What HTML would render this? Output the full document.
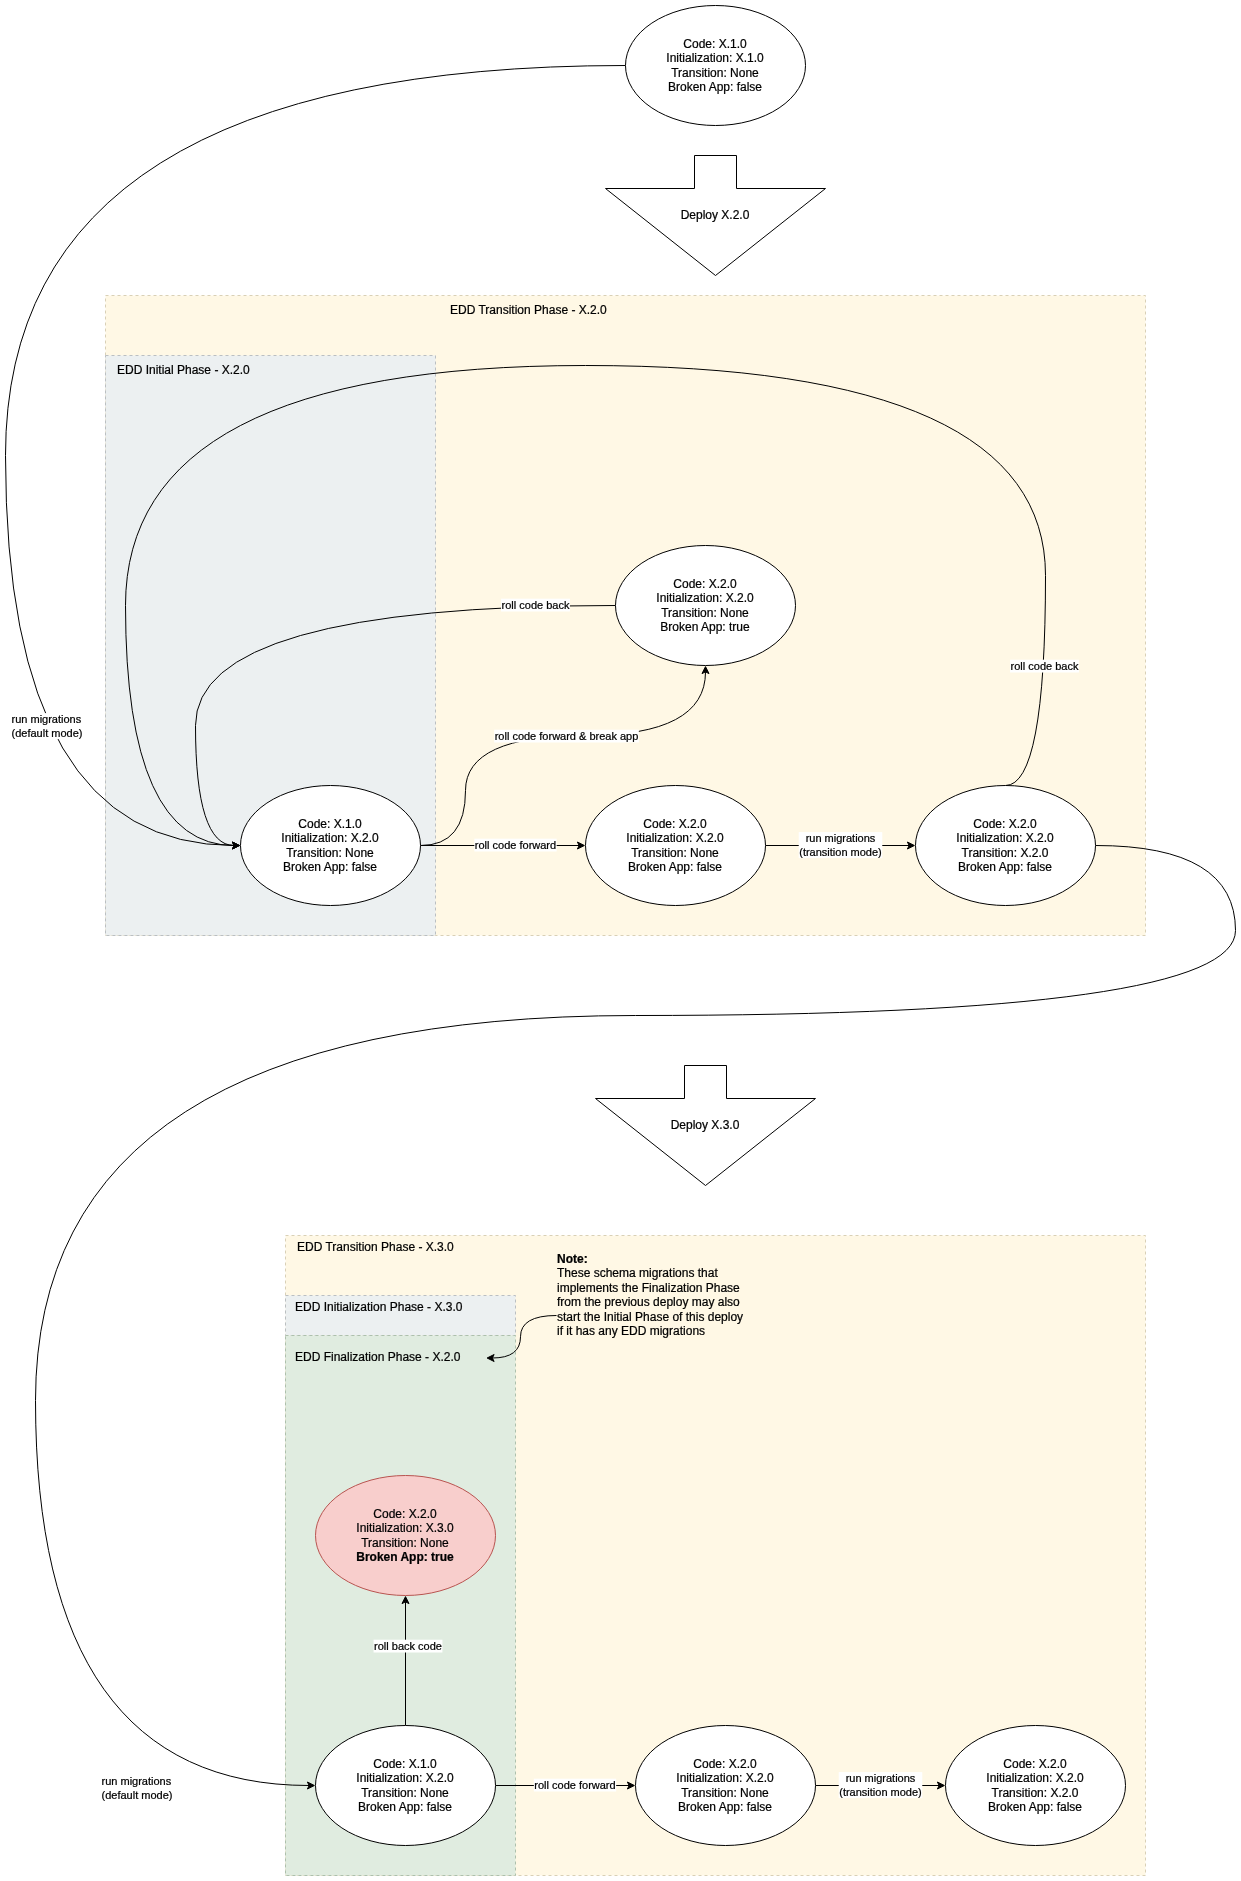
<!DOCTYPE html>
<html><head><meta charset="utf-8"><title>EDD state diagram</title>
<style>
html,body{margin:0;padding:0;background:#fff;}
svg{display:block;will-change:transform;font-family:"Liberation Sans",sans-serif;fill:#000;}
text{stroke:#000;stroke-width:0.22px;}
</style></head><body>
<svg width="1241" height="1881" viewBox="0 0 1241 1881">
<rect width="1241" height="1881" fill="#fff"/>
<rect x="105.5" y="295.5" width="1040" height="640" fill="#fff8e5" stroke="#d9d0b6" stroke-dasharray="3 3"/>
<rect x="105.5" y="355.5" width="330" height="580" fill="#ecf0f1" stroke="#babfc2" stroke-dasharray="3 3"/>
<rect x="285.5" y="1235.5" width="860" height="640" fill="#fff8e5" stroke="#d9d0b6" stroke-dasharray="3 3"/>
<rect x="285.5" y="1295.5" width="230" height="40" fill="#ecf0f1" stroke="#babfc2" stroke-dasharray="3 3"/>
<rect x="285.5" y="1335.5" width="230" height="540" fill="#e0ece0" stroke="#adc0ac" stroke-dasharray="3 3"/>
<text x="450" y="314" font-size="12" text-anchor="start">EDD Transition Phase - X.2.0</text>
<text x="117" y="374" font-size="12" text-anchor="start">EDD Initial Phase - X.2.0</text>
<text x="297" y="1251" font-size="12" text-anchor="start">EDD Transition Phase - X.3.0</text>
<text x="295" y="1311" font-size="12" text-anchor="start">EDD Initialization Phase - X.3.0</text>
<text x="295" y="1361" font-size="12" text-anchor="start">EDD Finalization Phase - X.2.0</text>
<text x="557" y="1263" font-size="12" text-anchor="start" font-weight="bold">Note:</text>
<text x="557" y="1277.4" font-size="12" text-anchor="start">These schema migrations that</text>
<text x="557" y="1291.8000000000002" font-size="12" text-anchor="start">implements the Finalization Phase</text>
<text x="557" y="1306.2" font-size="12" text-anchor="start">from the previous deploy may also</text>
<text x="557" y="1320.6000000000001" font-size="12" text-anchor="start">start the Initial Phase of this deploy</text>
<text x="557" y="1335.0" font-size="12" text-anchor="start">if it has any EDD migrations</text>
<path d="M 625.5 65.5 Q 5.5 65.5 5.5 455.5 Q 5.5 845.5 234.13 845.50" fill="none" stroke="#000" stroke-miterlimit="10"/>
<path d="M 239.38 845.50 L 232.38 849.00 L 234.13 845.50 L 232.38 842.00 Z" fill="#000" stroke="#000" stroke-miterlimit="10"/>
<path d="M 1005.5 785.5 Q 1045.5 785.5 1045.5 575.5 Q 1045.5 365.5 585.5 365.5 Q 125.5 365.5 125.5 605.5 Q 125.5 845.5 234.13 845.50" fill="none" stroke="#000" stroke-miterlimit="10"/>
<path d="M 239.38 845.50 L 232.38 849.00 L 234.13 845.50 L 232.38 842.00 Z" fill="#000" stroke="#000" stroke-miterlimit="10"/>
<path d="M 615.5 605.5 Q 195.5 605.5 195.5 725.5 Q 195.5 845.5 234.13 845.50" fill="none" stroke="#000" stroke-miterlimit="10"/>
<path d="M 239.38 845.50 L 232.38 849.00 L 234.13 845.50 L 232.38 842.00 Z" fill="#000" stroke="#000" stroke-miterlimit="10"/>
<path d="M 420.5 845.5 Q 465.5 845.5 465.5 790.5 Q 465.5 735.5 585.5 735.5 Q 705.5 735.5 705.50 671.87" fill="none" stroke="#000" stroke-miterlimit="10"/>
<path d="M 705.50 666.62 L 709.00 673.62 L 705.50 671.87 L 702.00 673.62 Z" fill="#000" stroke="#000" stroke-miterlimit="10"/>
<path d="M 420.5 845.5 L 579.13 845.50" fill="none" stroke="#000" stroke-miterlimit="10"/>
<path d="M 584.38 845.50 L 577.38 849.00 L 579.13 845.50 L 577.38 842.00 Z" fill="#000" stroke="#000" stroke-miterlimit="10"/>
<path d="M 765.5 845.5 L 909.13 845.50" fill="none" stroke="#000" stroke-miterlimit="10"/>
<path d="M 914.38 845.50 L 907.38 849.00 L 909.13 845.50 L 907.38 842.00 Z" fill="#000" stroke="#000" stroke-miterlimit="10"/>
<path d="M 1095.5 845.5 Q 1235.5 845.5 1235.5 930.5 Q 1235.5 1015.5 635.5 1015.5 Q 35.5 1015.5 35.5 1400.5 Q 35.5 1785.5 309.13 1785.50" fill="none" stroke="#000" stroke-miterlimit="10"/>
<path d="M 314.38 1785.50 L 307.38 1789.00 L 309.13 1785.50 L 307.38 1782.00 Z" fill="#000" stroke="#000" stroke-miterlimit="10"/>
<path d="M 405.5 1725.5 L 405.50 1601.87" fill="none" stroke="#000" stroke-miterlimit="10"/>
<path d="M 405.50 1596.62 L 409.00 1603.62 L 405.50 1601.87 L 402.00 1603.62 Z" fill="#000" stroke="#000" stroke-miterlimit="10"/>
<path d="M 495.5 1785.5 L 629.13 1785.50" fill="none" stroke="#000" stroke-miterlimit="10"/>
<path d="M 634.38 1785.50 L 627.38 1789.00 L 629.13 1785.50 L 627.38 1782.00 Z" fill="#000" stroke="#000" stroke-miterlimit="10"/>
<path d="M 815.5 1785.5 L 939.13 1785.50" fill="none" stroke="#000" stroke-miterlimit="10"/>
<path d="M 944.38 1785.50 L 937.38 1789.00 L 939.13 1785.50 L 937.38 1782.00 Z" fill="#000" stroke="#000" stroke-miterlimit="10"/>
<path d="M 556.5 1315.5 Q 520.5 1315.5 520.5 1336.75 Q 520.5 1358 492.37 1358.00" fill="none" stroke="#000" stroke-miterlimit="10"/>
<path d="M 487.12 1358.00 L 494.12 1354.50 L 492.37 1358.00 L 494.12 1361.50 Z" fill="#000" stroke="#000" stroke-miterlimit="10"/>
<rect x="501.06" y="598.70" width="68.87" height="12.80" fill="#ffffff"/>
<text x="535.5" y="609.1" text-anchor="middle" font-size="11">roll code back</text>
<rect x="1010.06" y="659.70" width="68.87" height="12.80" fill="#ffffff"/>
<text x="1044.5" y="670.1" text-anchor="middle" font-size="11">roll code back</text>
<rect x="494.15" y="729.70" width="144.69" height="12.80" fill="#ffffff"/>
<text x="566.5" y="740.1" text-anchor="middle" font-size="11">roll code forward &amp; break app</text>
<rect x="474.34" y="838.70" width="82.32" height="12.80" fill="#ffffff"/>
<text x="515.5" y="849.1" text-anchor="middle" font-size="11">roll code forward</text>
<rect x="798.73" y="832.10" width="83.54" height="26.00" fill="#ffffff"/>
<text x="840.5" y="841.6" text-anchor="middle" font-size="11">run migrations</text>
<text x="840.5" y="855.6" text-anchor="middle" font-size="11">(transition mode)</text>
<rect x="10.54" y="713.10" width="71.93" height="26.00" fill="#ffffff"/>
<text x="11.54" y="722.6" font-size="11">run migrations</text>
<text x="11.54" y="736.6" font-size="11">(default mode)</text>
<rect x="100.54" y="1775.10" width="71.93" height="26.00" fill="#ffffff"/>
<text x="101.54" y="1784.6" font-size="11">run migrations</text>
<text x="101.54" y="1798.6" font-size="11">(default mode)</text>
<rect x="373.56" y="1639.70" width="68.87" height="12.80" fill="#ffffff"/>
<text x="408" y="1650.1" text-anchor="middle" font-size="11">roll back code</text>
<rect x="533.84" y="1778.70" width="82.32" height="12.80" fill="#ffffff"/>
<text x="575" y="1789.1" text-anchor="middle" font-size="11">roll code forward</text>
<rect x="838.73" y="1772.10" width="83.54" height="26.00" fill="#ffffff"/>
<text x="880.5" y="1781.6" text-anchor="middle" font-size="11">run migrations</text>
<text x="880.5" y="1795.6" text-anchor="middle" font-size="11">(transition mode)</text>
<path d="M 694.5 155.5 L 736.5 155.5 L 736.5 188.5 L 825.5 188.5 L 715.5 275.5 L 605.5 188.5 L 694.5 188.5 Z" fill="#fff" stroke="#000" stroke-miterlimit="10"/>
<text x="715.0" y="219.0" font-size="12" text-anchor="middle">Deploy X.2.0</text>
<path d="M 684.5 1065.5 L 726.5 1065.5 L 726.5 1098.5 L 815.5 1098.5 L 705.5 1185.5 L 595.5 1098.5 L 684.5 1098.5 Z" fill="#fff" stroke="#000" stroke-miterlimit="10"/>
<text x="705.0" y="1129.0" font-size="12" text-anchor="middle">Deploy X.3.0</text>
<ellipse cx="715.5" cy="65.5" rx="90" ry="60" fill="#ffffff" stroke="#000000"/>
<text x="715.0" y="47.9" text-anchor="middle" font-size="12">Code: X.1.0</text>
<text x="715.0" y="62.3" text-anchor="middle" font-size="12">Initialization: X.1.0</text>
<text x="715.0" y="76.7" text-anchor="middle" font-size="12">Transition: None</text>
<text x="715.0" y="91.1" text-anchor="middle" font-size="12">Broken App: false</text>
<ellipse cx="705.5" cy="605.5" rx="90" ry="60" fill="#ffffff" stroke="#000000"/>
<text x="705.0" y="587.9" text-anchor="middle" font-size="12">Code: X.2.0</text>
<text x="705.0" y="602.3" text-anchor="middle" font-size="12">Initialization: X.2.0</text>
<text x="705.0" y="616.7" text-anchor="middle" font-size="12">Transition: None</text>
<text x="705.0" y="631.1" text-anchor="middle" font-size="12">Broken App: true</text>
<ellipse cx="330.5" cy="845.5" rx="90" ry="60" fill="#ffffff" stroke="#000000"/>
<text x="330.0" y="827.9" text-anchor="middle" font-size="12">Code: X.1.0</text>
<text x="330.0" y="842.3" text-anchor="middle" font-size="12">Initialization: X.2.0</text>
<text x="330.0" y="856.7" text-anchor="middle" font-size="12">Transition: None</text>
<text x="330.0" y="871.1" text-anchor="middle" font-size="12">Broken App: false</text>
<ellipse cx="675.5" cy="845.5" rx="90" ry="60" fill="#ffffff" stroke="#000000"/>
<text x="675.0" y="827.9" text-anchor="middle" font-size="12">Code: X.2.0</text>
<text x="675.0" y="842.3" text-anchor="middle" font-size="12">Initialization: X.2.0</text>
<text x="675.0" y="856.7" text-anchor="middle" font-size="12">Transition: None</text>
<text x="675.0" y="871.1" text-anchor="middle" font-size="12">Broken App: false</text>
<ellipse cx="1005.5" cy="845.5" rx="90" ry="60" fill="#ffffff" stroke="#000000"/>
<text x="1005.0" y="827.9" text-anchor="middle" font-size="12">Code: X.2.0</text>
<text x="1005.0" y="842.3" text-anchor="middle" font-size="12">Initialization: X.2.0</text>
<text x="1005.0" y="856.7" text-anchor="middle" font-size="12">Transition: X.2.0</text>
<text x="1005.0" y="871.1" text-anchor="middle" font-size="12">Broken App: false</text>
<ellipse cx="405.5" cy="1535.5" rx="90" ry="60" fill="#f8cecc" stroke="#b85450"/>
<text x="405.0" y="1517.9" text-anchor="middle" font-size="12">Code: X.2.0</text>
<text x="405.0" y="1532.3" text-anchor="middle" font-size="12">Initialization: X.3.0</text>
<text x="405.0" y="1546.7" text-anchor="middle" font-size="12">Transition: None</text>
<text x="405.0" y="1561.1" text-anchor="middle" font-size="12" font-weight="bold">Broken App: true</text>
<ellipse cx="405.5" cy="1785.5" rx="90" ry="60" fill="#ffffff" stroke="#000000"/>
<text x="405.0" y="1767.9" text-anchor="middle" font-size="12">Code: X.1.0</text>
<text x="405.0" y="1782.3" text-anchor="middle" font-size="12">Initialization: X.2.0</text>
<text x="405.0" y="1796.7" text-anchor="middle" font-size="12">Transition: None</text>
<text x="405.0" y="1811.1" text-anchor="middle" font-size="12">Broken App: false</text>
<ellipse cx="725.5" cy="1785.5" rx="90" ry="60" fill="#ffffff" stroke="#000000"/>
<text x="725.0" y="1767.9" text-anchor="middle" font-size="12">Code: X.2.0</text>
<text x="725.0" y="1782.3" text-anchor="middle" font-size="12">Initialization: X.2.0</text>
<text x="725.0" y="1796.7" text-anchor="middle" font-size="12">Transition: None</text>
<text x="725.0" y="1811.1" text-anchor="middle" font-size="12">Broken App: false</text>
<ellipse cx="1035.5" cy="1785.5" rx="90" ry="60" fill="#ffffff" stroke="#000000"/>
<text x="1035.0" y="1767.9" text-anchor="middle" font-size="12">Code: X.2.0</text>
<text x="1035.0" y="1782.3" text-anchor="middle" font-size="12">Initialization: X.2.0</text>
<text x="1035.0" y="1796.7" text-anchor="middle" font-size="12">Transition: X.2.0</text>
<text x="1035.0" y="1811.1" text-anchor="middle" font-size="12">Broken App: false</text>
</svg></body></html>
